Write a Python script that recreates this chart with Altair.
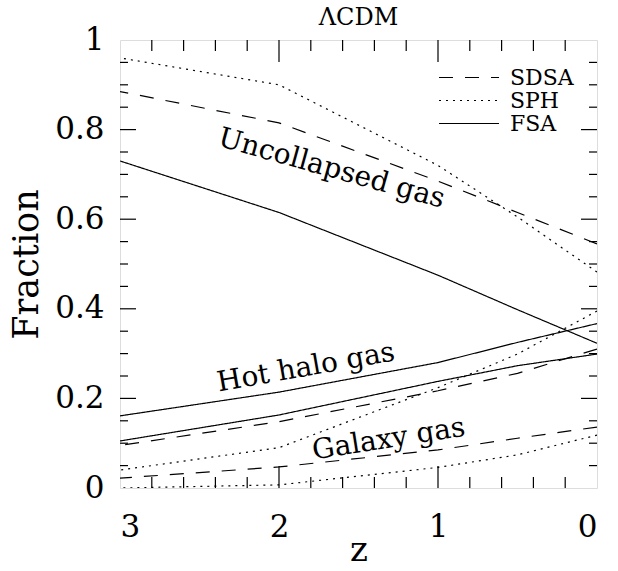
import altair as alt
import pandas as pd

# Redshift samples shared by every curve
z_vals = [3, 2, 1, 0.5, 0]

# Mass fractions per model and gas phase
sdsa_uncollapsed = [0.885, 0.815, 0.685, 0.615, 0.545]
sdsa_hot = [0.095, 0.148, 0.217, 0.256, 0.310]
sdsa_galaxy = [0.022, 0.047, 0.085, 0.111, 0.136]

sph_uncollapsed = [0.960, 0.900, 0.720, 0.605, 0.482]
sph_hot = [0.040, 0.090, 0.224, 0.299, 0.395]
sph_galaxy = [0.000, 0.007, 0.046, 0.074, 0.118]

fsa_uncollapsed = [0.730, 0.615, 0.475, 0.398, 0.323]
fsa_hot = [0.161, 0.214, 0.280, 0.325, 0.367]
fsa_galaxy = [0.105, 0.163, 0.238, 0.273, 0.299]

models = ["SDSA", "SPH", "FSA"]

# Curve annotations
label_text = ["Uncollapsed gas", "Hot halo gas", "Galaxy gas"]
label_z = [1.67, 1.83, 1.31]
label_f = [0.712, 0.268, 0.108]
label_angle = [15.5, 350, 351]

# Axis ticks
x_major = [0, 1, 2, 3]
x_minor = [0.2, 0.4, 0.6, 0.8, 1.2, 1.4, 1.6, 1.8, 2.2, 2.4, 2.6, 2.8]
y_major = [0, 0.2, 0.4, 0.6, 0.8, 1]
y_minor = [0.05, 0.1, 0.15, 0.25, 0.3, 0.35, 0.45, 0.5, 0.55,
           0.65, 0.7, 0.75, 0.85, 0.9, 0.95]

series = {
    ("SDSA", "uncollapsed"): sdsa_uncollapsed,
    ("SDSA", "hot"): sdsa_hot,
    ("SDSA", "galaxy"): sdsa_galaxy,
    ("SPH", "uncollapsed"): sph_uncollapsed,
    ("SPH", "hot"): sph_hot,
    ("SPH", "galaxy"): sph_galaxy,
    ("FSA", "uncollapsed"): fsa_uncollapsed,
    ("FSA", "hot"): fsa_hot,
    ("FSA", "galaxy"): fsa_galaxy,
}
rows = []
for (model, phase), vals in series.items():
    for z, f in zip(z_vals, vals):
        rows.append({"z": z, "f": f, "model": model, "phase": phase})
lines_df = pd.DataFrame(rows)

labels_df = pd.DataFrame({"z": label_z, "f": label_f, "text": label_text,
                          "angle": label_angle})

W, H = 477, 448
FONT = "DejaVu Serif"

x_scale = alt.Scale(domain=[0, 3], reverse=True, nice=False, zero=False)
y_scale = alt.Scale(domain=[0, 1], nice=False)
x_axis = alt.Axis(values=x_major, format="d", ticks=False, domain=False, grid=False,
                  labelFont=FONT, labelFontSize=31, labelPadding=24, labelColor="black",
                  titleFont=FONT, titleFontSize=34, titleFontWeight="normal",
                  titlePadding=-9, titleColor="black")
y_axis = alt.Axis(values=y_major, format="~g", ticks=False, domain=False, grid=False,
                  labelFont=FONT, labelFontSize=31, labelPadding=16, labelColor="black",
                  titleFont=FONT, titleFontSize=35, titleFontWeight="normal",
                  titlePadding=10, titleColor="black")


def X(field):
    return alt.X(field, type="quantitative", scale=x_scale, axis=x_axis, title="z")


def Y(field):
    return alt.Y(field, type="quantitative", scale=y_scale, axis=y_axis, title="Fraction")


lines = alt.Chart(lines_df).mark_line(color="black", strokeWidth=1.2, clip=True).encode(
    x=X("z"),
    y=Y("f"),
    detail="phase:N",
    strokeDash=alt.StrokeDash(
        "model:N",
        scale=alt.Scale(domain=models, range=[[14, 12], [2, 5], [1, 0]]),
        legend=alt.Legend(title=None, orient="none", legendX=318, legendY=26,
                          symbolType="stroke", symbolSize=3600, symbolStrokeWidth=1.2,
                          symbolStrokeColor="black", labelFont=FONT, labelFontSize=22,
                          labelColor="black", labelOffset=10, rowPadding=0, padding=0,
                          clipHeight=23),
    ),
    order="z:Q",
)

texts = alt.Chart(labels_df).mark_text(font=FONT, fontSize=28, color="black").encode(
    x=X("z"),
    y=Y("f"),
    text="text:N",
    angle=alt.Angle("angle:Q", scale=None),
)


def ticks(values, side, length):
    df = pd.DataFrame({"t": values})
    base = alt.Chart(df).mark_rule(color="black", strokeWidth=1.2)
    if side == "bottom":
        return base.encode(x=X("t"), y=alt.value(H), y2=alt.value(H - length))
    if side == "top":
        return base.encode(x=X("t"), y=alt.value(0), y2=alt.value(length))
    if side == "left":
        return base.encode(y=Y("t"), x=alt.value(0), x2=alt.value(length))
    return base.encode(y=Y("t"), x=alt.value(W), x2=alt.value(W - length))


tick_layers = [
    ticks(x_major[1:-1], "bottom", 22), ticks(x_minor, "bottom", 11),
    ticks(x_major[1:-1], "top", 22), ticks(x_minor, "top", 11),
    ticks(y_major[1:-1], "left", 16), ticks(y_minor, "left", 8),
    ticks(y_major[1:-1], "right", 16), ticks(y_minor, "right", 8),
]

chart = alt.layer(lines, texts, *tick_layers).properties(
    width=W,
    height=H,
    autosize="none",
    padding={"left": 120, "top": 40, "right": 21, "bottom": 83},
    title=alt.TitleParams("ΛCDM", font=FONT, fontSize=24, fontWeight="normal",
                          color="black", offset=-6, anchor="middle"),
).configure_view(stroke="black", strokeWidth=1.5).configure(background="white")

chart.save("out.html", embed_options={"renderer": "svg", "actions": False})
